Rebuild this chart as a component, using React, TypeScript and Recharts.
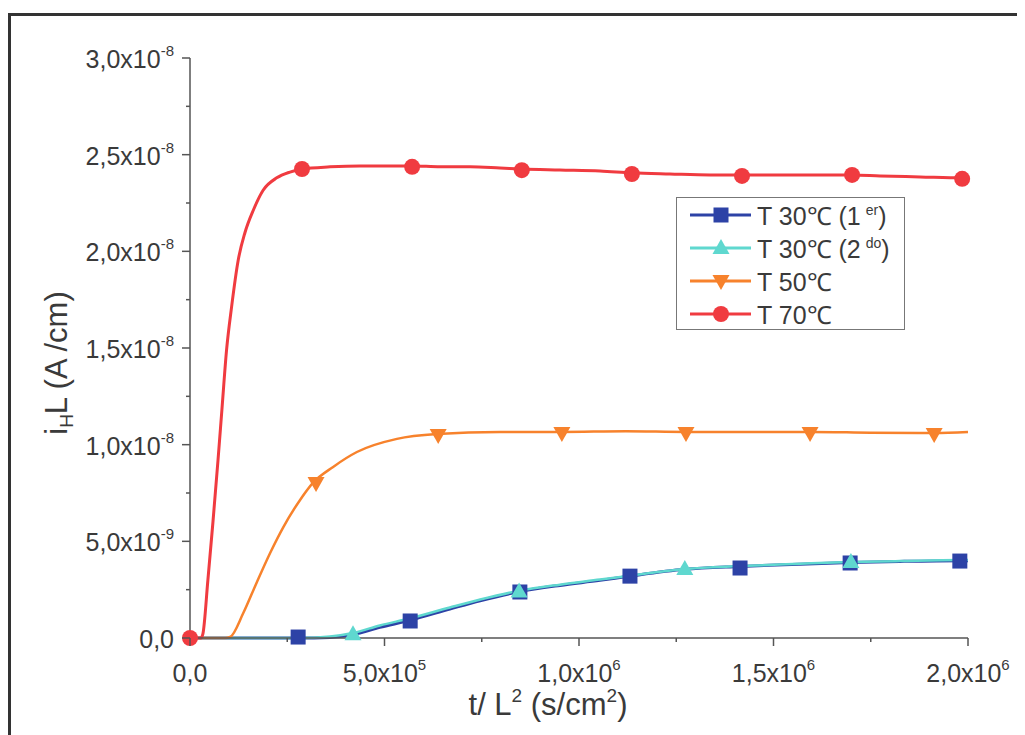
import React from 'react';
import { ComposedChart, Line, Scatter, XAxis, YAxis, Legend, Label } from 'recharts';

// x in units of 1e5 s/cm^2, y in units of 1e-9 A/cm

const t30aX = [0, 2.78, 3.6, 4.19, 4.88, 5.66, 6.68, 7.46, 8.48, 9.51, 10.54, 11.31, 12.72, 14.14, 15.68, 16.97, 18.25, 19.79, 20];
const t30aY = [0, 0, 0.03, 0.18, 0.55, 0.92, 1.5, 1.93, 2.4, 2.72, 2.98, 3.2, 3.55, 3.7, 3.82, 3.9, 3.96, 4.0, 4.0];
const t30bY = [0, 0, 0.08, 0.26, 0.65, 1.02, 1.58, 1.99, 2.45, 2.76, 3.02, 3.22, 3.57, 3.72, 3.84, 3.93, 3.98, 4.03, 4.03];

const t50X = [0, 0.9, 1.03, 1.37, 1.71, 2.06, 2.4, 2.83, 3.16, 3.68, 4.29, 5.32, 6.35, 7.97, 9.56, 11.2, 12.75, 14.4, 15.94, 17.5, 19.13, 20];
const t50Y = [0, 0, 0.05, 1.29, 2.85, 4.4, 5.74, 7.14, 8.02, 8.85, 9.62, 10.3, 10.55, 10.66, 10.66, 10.7, 10.66, 10.66, 10.66, 10.62, 10.6, 10.66];

const t70X = [0, 0.28, 0.33, 0.46, 0.59, 0.72, 0.82, 0.94, 1.07, 1.24, 1.41, 1.63, 1.88, 2.23, 2.57, 2.88, 3.6, 4.37, 5.14, 5.71, 6.43, 7.2, 7.97, 8.53, 9.51, 10.54, 11.36, 12.34, 13.37, 14.19, 15.17, 16.2, 17.02, 17.74, 18.77, 19.85, 20];
const t70Y = [0, 0, 0.2, 3.0, 6.0, 9.2, 11.8, 14.9, 17.14, 19.55, 20.95, 22.14, 23.16, 23.8, 24.1, 24.26, 24.37, 24.42, 24.42, 24.42, 24.37, 24.37, 24.31, 24.26, 24.21, 24.16, 24.06, 24.0, 23.95, 23.95, 23.95, 23.95, 23.95, 23.9, 23.85, 23.8, 23.8];

// marker positions
const t30aMarkX = [2.78, 5.66, 8.48, 11.31, 14.14, 16.97, 19.79];
const t30aMarkY = [0.05, 0.88, 2.38, 3.2, 3.62, 3.88, 3.98];
const t30bMarkX = [4.19, 8.46, 12.72, 16.99];
const t30bMarkY = [0.2, 2.4, 3.57, 3.93];
const t50MarkX = [3.24, 6.38, 9.56, 12.75, 15.94, 19.13];
const t50MarkY = [8.02, 10.5, 10.6, 10.6, 10.6, 10.55];
const t70MarkX = [0, 2.88, 5.71, 8.53, 11.36, 14.19, 17.02, 19.85];
const t70MarkY = [0, 24.26, 24.37, 24.2, 24.0, 23.9, 23.95, 23.75];

const xTicks = [0, 2.5, 5, 7.5, 10, 12.5, 15, 17.5, 20];
const xMajor = [0, 5, 10, 15, 20];
const xMantissa = ['0,0', '5,0x10', '1,0x10', '1,5x10', '2,0x10'];
const xExponent = ['', '5', '6', '6', '6'];

const yTicks = [0, 2.5, 5, 7.5, 10, 12.5, 15, 17.5, 20, 22.5, 25, 27.5, 30];
const yMajor = [0, 5, 10, 15, 20, 25, 30];
const yMantissa = ['0,0', '5,0x10', '1,0x10', '1,5x10', '2,0x10', '2,5x10', '3,0x10'];
const yExponent = ['', '-9', '-8', '-8', '-8', '-8', '-8'];

const FONT = '"Liberation Sans", Arial, sans-serif';
const TEXT = '#3a3a3a';
const AXIS = '#555';

const BLUE = '#2d42a6';
const CYAN = '#5fd8cf';
const ORANGE = '#f7822c';
const RED = '#f03b40';

const pts = (xs: number[], ys: number[]) => xs.map((x, i) => ({ x, y: ys[i] }));

const t30a = pts(t30aX, t30aY);
const t30b = pts(t30aX, t30bY);
const t50 = pts(t50X, t50Y);
const t70 = pts(t70X, t70Y);

const Square = (color: string) => (p: any) => (
  <rect x={p.cx - 7.5} y={p.cy - 7.5} width={15} height={15} fill={color} />
);
const TriUp = (color: string) => (p: any) => (
  <path d={`M${p.cx},${p.cy - 9} L${p.cx + 8.5},${p.cy + 6} L${p.cx - 8.5},${p.cy + 6} Z`} fill={color} />
);
const TriDown = (color: string) => (p: any) => (
  <path d={`M${p.cx},${p.cy + 9} L${p.cx + 8.5},${p.cy - 6} L${p.cx - 8.5},${p.cy - 6} Z`} fill={color} />
);
const Dot = (color: string) => (p: any) => <circle cx={p.cx} cy={p.cy} r={8} fill={color} />;

const series = [
  { name: 'T 30℃ (1', sup: 'er', close: ')', color: BLUE, marker: Square },
  { name: 'T 30℃ (2', sup: 'do', close: ')', color: CYAN, marker: TriUp },
  { name: 'T 50℃', sup: '', close: '', color: ORANGE, marker: TriDown },
  { name: 'T 70℃', sup: '', close: '', color: RED, marker: Dot },
];

function XTick({ x, y, payload }: any) {
  const i = xMajor.indexOf(payload.value);
  const major = i >= 0;
  return (
    <g>
      <line x1={x} x2={x} y1={y} y2={y + (major ? 8 : 4)} stroke={AXIS} strokeWidth={1.5} />
      {major && (
        <text x={x} y={y + 44} textAnchor="middle" fontSize={25} fill={TEXT} fontFamily={FONT}>
          {xMantissa[i]}
          {xExponent[i] && (
            <tspan dy={-12} fontSize={15}>
              {xExponent[i]}
            </tspan>
          )}
        </text>
      )}
    </g>
  );
}

function YTick({ x, y, payload }: any) {
  const i = yMajor.indexOf(payload.value);
  const major = i >= 0;
  return (
    <g>
      <line x1={x - (major ? 8 : 4)} x2={x} y1={y} y2={y} stroke={AXIS} strokeWidth={1.5} />
      {major && (
        <text x={x - 16} y={y + 10} textAnchor="end" fontSize={25} fill={TEXT} fontFamily={FONT}>
          {yMantissa[i]}
          {yExponent[i] && (
            <tspan dy={-12} fontSize={15}>
              {yExponent[i]}
            </tspan>
          )}
        </text>
      )}
    </g>
  );
}

function XTitle({ viewBox }: any) {
  const cx = viewBox.x + viewBox.width / 2 - 31;
  const by = viewBox.y + 77;
  return (
    <text x={cx} y={by} textAnchor="middle" fontSize={31} fill={TEXT} fontFamily={FONT}>
      t/ L
      <tspan dy={-13} fontSize={19}>2</tspan>
      <tspan dy={13}> (s/cm</tspan>
      <tspan dy={-13} fontSize={19}>2</tspan>
      <tspan dy={13}>)</tspan>
    </text>
  );
}

function YTitle({ viewBox }: any) {
  const bx = 59;
  const cy = viewBox.y + viewBox.height / 2 + 15;
  return (
    <text
      x={bx}
      y={cy}
      transform={`rotate(-90 ${bx} ${cy})`}
      textAnchor="middle"
      fontSize={31}
      fill={TEXT}
      fontFamily={FONT}
    >
      i
      <tspan dy={6} fontSize={19}>H</tspan>
      <tspan dy={-6}>L (A /cm)</tspan>
    </text>
  );
}

function LegendBox() {
  return (
    <div
      style={{
        border: '1.5px solid #777',
        width: 229,
        height: 133,
        background: '#fff',
        fontFamily: FONT,
        color: TEXT,
        boxSizing: 'border-box',
      }}
    >
      {series.map((s) => (
        <div key={s.name + s.sup} style={{ height: 33, display: 'flex', alignItems: 'center' }}>
          <svg width={78} height={24} style={{ marginLeft: 11, flex: 'none' }}>
            <line x1={2} x2={63} y1={12} y2={12} stroke={s.color} strokeWidth={3} />
            {s.marker(s.color)({ cx: 33, cy: 12 })}
          </svg>
          <span style={{ fontSize: 25, marginLeft: -9, whiteSpace: 'nowrap' }}>
            {s.name}
            {s.sup && <sup style={{ fontSize: 14, marginLeft: 5 }}>{s.sup}</sup>}
            {s.close}
          </span>
        </div>
      ))}
    </div>
  );
}

export default function App() {
  return (
    <div style={{ position: 'relative', width: 1017, height: 727 }}>
      <div style={{ position: 'absolute', left: 0, top: 5, right: -8, height: 3, background: '#333' }} />
      <div style={{ position: 'absolute', left: 0, top: 5, bottom: -8, width: 2.5, background: '#333' }} />
      <div style={{ position: 'absolute', left: 0, top: 0 }}>
        <ComposedChart width={1017} height={727} margin={{ top: 50, right: 57, left: 0, bottom: 0 }}>
          <XAxis
            type="number"
            dataKey="x"
            domain={[0, 20]}
            ticks={xTicks}
            interval={0}
            tick={<XTick />}
            tickLine={false}
            tickSize={0}
            tickMargin={0}
            height={97}
            axisLine={{ stroke: AXIS, strokeWidth: 1.5 }}
            allowDuplicatedCategory={false}
          >
            <Label content={<XTitle />} />
          </XAxis>
          <YAxis
            type="number"
            dataKey="y"
            domain={[0, 30]}
            ticks={yTicks}
            interval={0}
            tick={<YTick />}
            tickLine={false}
            tickSize={0}
            tickMargin={0}
            width={182}
            axisLine={{ stroke: AXIS, strokeWidth: 1.5 }}
          >
            <Label content={<YTitle />} />
          </YAxis>
          <Legend
            layout="vertical"
            align="center"
            verticalAlign="middle"
            content={<LegendBox />}
            wrapperStyle={{ left: 668, top: 189, width: 231 }}
          />

          <Line data={t30a} dataKey="y" type="monotone" stroke={BLUE} strokeWidth={3} dot={false} activeDot={false} isAnimationActive={false} />
          <Scatter data={pts(t30aMarkX, t30aMarkY)} dataKey="y" shape={Square(BLUE)} isAnimationActive={false} />
          <Line data={t30b} dataKey="y" type="monotone" stroke={CYAN} strokeWidth={2.5} dot={false} activeDot={false} isAnimationActive={false} />
          <Scatter data={pts(t30bMarkX, t30bMarkY)} dataKey="y" shape={TriUp(CYAN)} isAnimationActive={false} />
          <Line data={t50} dataKey="y" type="monotone" stroke={ORANGE} strokeWidth={2.5} dot={false} activeDot={false} isAnimationActive={false} />
          <Scatter data={pts(t50MarkX, t50MarkY)} dataKey="y" shape={TriDown(ORANGE)} isAnimationActive={false} />
          <Line data={t70} dataKey="y" type="monotone" stroke={RED} strokeWidth={3} dot={false} activeDot={false} isAnimationActive={false} />
          <Scatter data={pts(t70MarkX, t70MarkY)} dataKey="y" shape={Dot(RED)} isAnimationActive={false} />
        </ComposedChart>
      </div>
    </div>
  );
}
